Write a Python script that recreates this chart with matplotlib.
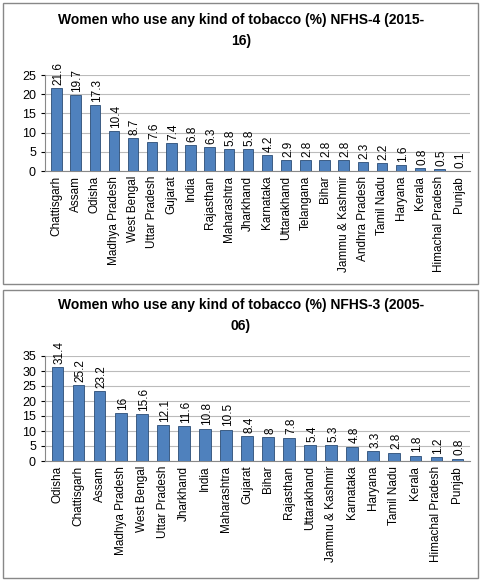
import matplotlib.pyplot as plt
from matplotlib.patches import Rectangle

states_4 = ["Chattisgarh", "Assam", "Odisha", "Madhya Pradesh", "West Bengal", "Uttar Pradesh",
            "Gujarat", "India", "Rajasthan", "Maharashtra", "Jharkhand", "Karnataka",
            "Uttarakhand", "Telangana", "Bihar", "Jammu & Kashmir", "Andhra Pradesh",
            "Tamil Nadu", "Haryana", "Kerala", "Himachal Pradesh", "Punjab"]
vals_4 = [21.6, 19.7, 17.3, 10.4, 8.7, 7.6, 7.4, 6.8, 6.3, 5.8, 5.8, 4.2,
          2.9, 2.8, 2.8, 2.8, 2.3, 2.2, 1.6, 0.8, 0.5, 0.1]
labels_4 = ["21.6", "19.7", "17.3", "10.4", "8.7", "7.6", "7.4", "6.8", "6.3", "5.8", "5.8", "4.2",
            "2.9", "2.8", "2.8", "2.8", "2.3", "2.2", "1.6", "0.8", "0.5", "0.1"]

states_3 = ["Odisha", "Chattisgarh", "Assam", "Madhya Pradesh", "West Bengal", "Uttar Pradesh",
            "Jharkhand", "India", "Maharashtra", "Gujarat", "Bihar", "Rajasthan",
            "Uttarakhand", "Jammu & Kashmir", "Karnataka", "Haryana", "Tamil Nadu",
            "Kerala", "Himachal Pradesh", "Punjab"]
vals_3 = [31.4, 25.2, 23.2, 16, 15.6, 12.1, 11.6, 10.8, 10.5, 8.4, 8, 7.8,
          5.4, 5.3, 4.8, 3.3, 2.8, 1.8, 1.2, 0.8]
labels_3 = ["31.4", "25.2", "23.2", "16", "15.6", "12.1", "11.6", "10.8", "10.5", "8.4", "8", "7.8",
            "5.4", "5.3", "4.8", "3.3", "2.8", "1.8", "1.2", "0.8"]

plt.rcParams['font.family'] = ['Liberation Sans', 'DejaVu Sans']
W, H = 482, 581
fig = plt.figure(figsize=(W / 100, H / 100), dpi=100)

def px(x0, y0, x1, y1):
    # pixel box (top-left origin) -> figure fraction rect
    return [x0 / W, 1 - y1 / H, (x1 - x0) / W, (y1 - y0) / H]

def panel(box, axbox, title_y, title, names, vals, labels, ymax, step):
    fig.add_artist(Rectangle((box[0] / W, 1 - box[3] / H), (box[2] - box[0]) / W,
                             (box[3] - box[1]) / H, transform=fig.transFigure,
                             fill=False, ec="#888888", lw=1))
    fig.text(0.5, 1 - title_y / H, title, ha="center", va="top", fontsize=10,
             fontweight="bold", linespacing=1.6)
    ax = fig.add_axes(px(*axbox))
    x = range(len(vals))
    ax.bar(x, vals, width=0.55, color="#4F81BD", edgecolor="#2c4d75", lw=0.6, zorder=3)
    ax.set_ylim(0, ymax)
    ax.set_xlim(-0.6, len(vals) - 0.4)
    ax.set_yticks(range(0, ymax + 1, step))
    ax.yaxis.grid(True, color="#bbbbbb", lw=0.8, zorder=0)
    ax.set_xticks(list(x))
    ax.set_xticklabels(names, rotation=90, fontsize=8.5)
    ax.tick_params(axis="y", labelsize=9, length=3)
    ax.tick_params(axis="x", length=0)
    for s in ["top", "right"]:
        ax.spines[s].set_visible(False)
    ax.spines["left"].set_color("#888888")
    ax.spines["bottom"].set_color("#888888")
    for xi, v, lab in zip(x, vals, labels):
        ax.text(xi + 0.1, v + ymax * 0.03, lab, rotation=90, ha="center", va="bottom",
                fontsize=8.5, clip_on=False)
    return ax

panel((3, 3, 478, 284), (45, 75, 470, 171), 13,
      "Women who use any kind of tobacco (%) NFHS-4 (2015-\n16)",
      states_4, vals_4, labels_4, 25, 5)
panel((3, 290, 478, 578), (45, 356, 470, 461), 298,
      "Women who use any kind of tobacco (%) NFHS-3 (2005-\n06)",
      states_3, vals_3, labels_3, 35, 5)

fig.savefig("out.png", dpi=100)
